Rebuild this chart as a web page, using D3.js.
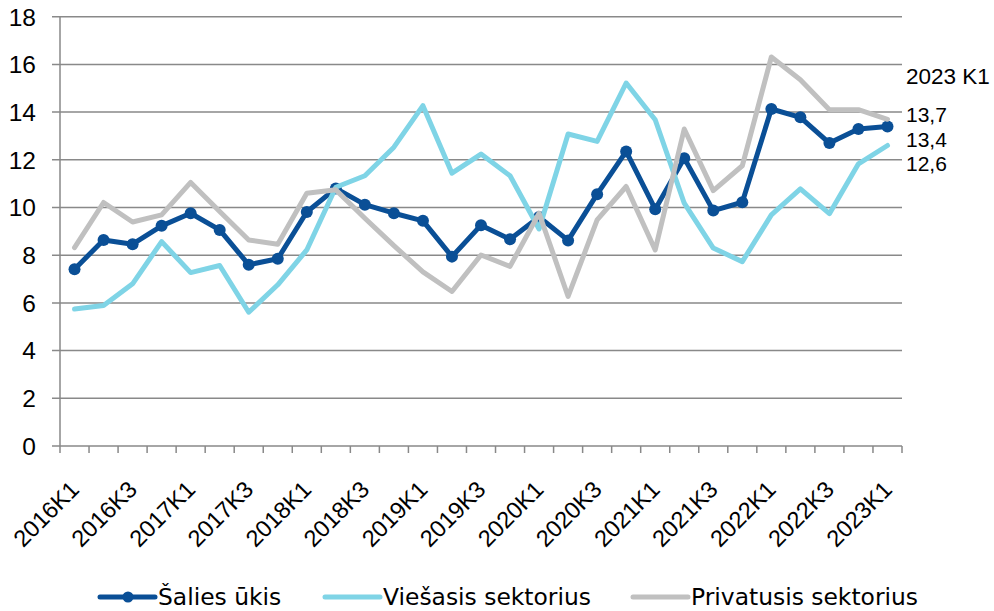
<!DOCTYPE html>
<html><head><meta charset="utf-8">
<script src="https://cdn.jsdelivr.net/npm/d3@7"></script>
<style>
body{margin:0;background:#fff;}
svg{display:block;}
.num{font-family:"Liberation Sans",Arial,sans-serif;fill:#000;}
.leg{font-family:"DejaVu Sans",sans-serif;fill:#000;}
</style></head>
<body>
<svg id="c" width="994" height="611"></svg>
<script>
const categories = ["2016K1","2016K2","2016K3","2016K4","2017K1","2017K2","2017K3","2017K4",
"2018K1","2018K2","2018K3","2018K4","2019K1","2019K2","2019K3","2019K4",
"2020K1","2020K2","2020K3","2020K4","2021K1","2021K2","2021K3","2021K4",
"2022K1","2022K2","2022K3","2022K4","2023K1"];
const salies = [7.41,8.64,8.46,9.23,9.76,9.06,7.60,7.85,9.81,10.8,10.12,9.76,9.44,7.94,9.26,8.67,
9.6,8.62,10.56,12.35,9.93,12.07,9.87,10.22,14.13,13.78,12.70,13.29,13.4];
const viesasis = [5.74,5.89,6.80,8.57,7.27,7.57,5.61,6.76,8.22,10.85,11.33,12.53,14.27,11.44,12.24,11.33,
9.1,13.08,12.77,15.22,13.68,10.18,8.30,7.73,9.69,10.78,9.74,11.83,12.6];
const privatusis = [8.32,10.21,9.39,9.69,11.05,9.83,8.64,8.46,10.6,10.74,9.55,8.4,7.3,6.48,8.01,7.53,
9.76,6.27,9.48,10.88,8.22,13.29,10.71,11.75,16.31,15.36,14.10,14.10,13.7];
const seriesNames = ["Šalies ūkis","Viešasis sektorius","Privatusis sektorius"];
const yTicks = [0,2,4,6,8,10,12,14,16,18];
const endLabels = ["2023 K1","13,7","13,4","12,6"];

const colors = ["#0a4f96","#7fd4e6","#c0c0c0"];
const svg = d3.select("#c");
const L=60, R=902, T=16.7, B=446;
const x = d3.scaleBand().domain(categories).range([L,R]).padding(0);
const y = d3.scaleLinear().domain([0,18]).range([B,T]);
const cx = d => x(d)+x.bandwidth()/2;
const gridCol = "#898989";

// gridlines
svg.append("g").selectAll("line").data(yTicks).join("line")
  .attr("x1",L-8).attr("x2",R).attr("y1",d=>y(d)).attr("y2",d=>y(d))
  .attr("stroke",gridCol).attr("stroke-width",1.5);
// y axis line
svg.append("line").attr("x1",L).attr("x2",L).attr("y1",T).attr("y2",B+7)
  .attr("stroke",gridCol).attr("stroke-width",1.5);
// x ticks at band boundaries
const bounds = categories.map(c=>x(c)).concat([R]);
svg.append("g").selectAll("line").data(bounds.slice(1)).join("line")
  .attr("x1",d=>d).attr("x2",d=>d).attr("y1",B).attr("y2",B+7)
  .attr("stroke",gridCol).attr("stroke-width",1.5);
// y labels
svg.append("g").selectAll("text").data(yTicks).join("text").attr("class","num")
  .attr("x",36).attr("y",d=>y(d)).attr("dy","0.36em").attr("text-anchor","end")
  .style("font-size","24.5px").text(d=>d);
// x labels
svg.append("g").selectAll("text").data(categories.filter((c,i)=>i%2===0)).join("text").attr("class","num")
  .attr("text-anchor","end").style("font-size","23.5px")
  .attr("transform",d=>`translate(${cx(d)+6},${B+45}) rotate(-45)`).text(d=>d);

const data = [salies,viesasis,privatusis];
const line = d3.line().x((d,i)=>cx(categories[i])).y(d=>y(d));
data.forEach((s,k)=>{
  svg.append("path").datum(s).attr("d",line).attr("fill","none")
    .attr("stroke",colors[k]).attr("stroke-width",5).attr("stroke-linejoin","round").attr("stroke-linecap","round");
  if(k===0){
    svg.append("g").selectAll("circle").data(s).join("circle")
      .attr("cx",(d,i)=>cx(categories[i])).attr("cy",d=>y(d)).attr("r",6).attr("fill",colors[0]);
  }
});

// end labels
const elY = [84,121.5,146.5,170.5];
const elSize = ["22.5px","21px","21px","21px"];
svg.append("g").selectAll("text").data(endLabels).join("text").attr("class","num")
  .attr("x",906).attr("y",(d,i)=>elY[i]).style("font-size",(d,i)=>elSize[i]).text(d=>d);

// legend
const legX = [100,325,633];
const legG = svg.append("g");
seriesNames.forEach((n,k)=>{
  legG.append("line").attr("x1",legX[k]).attr("x2",legX[k]+55).attr("y1",597).attr("y2",597)
    .attr("stroke",colors[k]).attr("stroke-width",5).attr("stroke-linecap","round");
  if(k===0) legG.append("circle").attr("cx",legX[k]+28).attr("cy",597).attr("r",5.5).attr("fill",colors[0]);
  legG.append("text").attr("class","leg").attr("x",legX[k]+58).attr("y",605)
    .style("font-size","23.4px").text(n);
});
</script>
</body></html>
